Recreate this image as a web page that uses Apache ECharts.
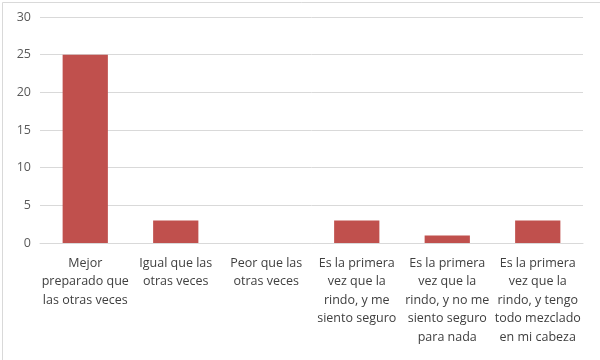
<!DOCTYPE html>
<html>
<head>
<meta charset="utf-8">
<script src="https://cdn.jsdelivr.net/npm/echarts@6/dist/echarts.min.js"></script>
<style>html,body{margin:0;padding:0;background:#fff}#c{width:600px;height:360px}</style>
</head>
<body>
<div id="c"></div>
<script>
const categories = [
  "Mejor\npreparado que\nlas otras veces",
  "Igual que las\notras veces",
  "Peor que las\notras veces",
  "Es la primera\nvez que la\nrindo, y me\nsiento seguro",
  "Es la primera\nvez que la\nrindo, y no me\nsiento seguro\npara nada",
  "Es la primera\nvez que la\nrindo, y tengo\ntodo mezclado\nen mi cabeza"
];
const values = [25, 3, 0, 3, 1, 3];
const yTicks = { min: 0, max: 30, interval: 5 };

const chart = echarts.init(document.getElementById('c'));
chart.setOption({
  animation: false,
  backgroundColor: '#fff',
  graphic: [{
    type: 'rect', left: 0, top: 0,
    shape: { x: 0.5, y: 0.5, width: 599, height: 359 },
    style: { fill: 'none', stroke: '#d9d9d9', lineWidth: 1 }
  }],
  grid: { left: 40, right: 17, top: 17, bottom: 117, containLabel: false },
  xAxis: {
    type: 'category',
    data: categories,
    axisLine: { lineStyle: { color: '#d9d9d9' } },
    axisTick: { show: false },
    axisLabel: {
      interval: 0, color: '#404040', fontFamily: 'Open Sans', fontSize: 12.5,
      lineHeight: 18.5, margin: 11
    }
  },
  yAxis: {
    type: 'value',
    min: yTicks.min, max: yTicks.max, interval: yTicks.interval,
    axisLine: { show: false },
    axisTick: { show: false },
    splitLine: { lineStyle: { color: '#d9d9d9' } },
    axisLabel: { color: '#595959', fontFamily: 'Open Sans', fontSize: 12.5, margin: 9 }
  },
  series: [{
    type: 'bar',
    data: values,
    barWidth: '50%',
    itemStyle: { color: '#c0504d' }
  }]
});
</script>
</body>
</html>
